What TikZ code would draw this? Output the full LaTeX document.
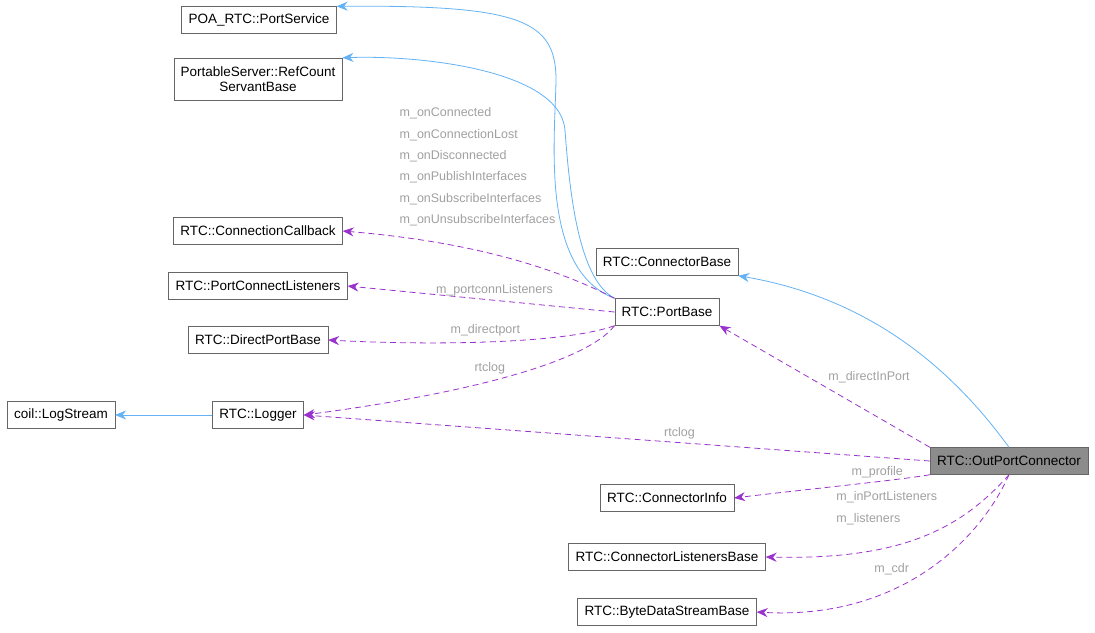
\documentclass[tikz,border=0pt]{standalone}
\usepackage{fontspec}
\setmainfont{Liberation Sans}
\usetikzlibrary{arrows.meta,positioning}

\definecolor{inh}{RGB}{99,178,245}
\definecolor{use}{RGB}{154,50,205}
\definecolor{lbl}{RGB}{160,160,160}

\begin{document}
\begin{tikzpicture}[x=1pt,y=-1pt,font=\fontsize{13.5}{15}\selectfont,
  cls/.style={draw=black!60,fill=white,inner xsep=7pt,minimum height=27pt,align=center},
  inherit/.style={->,>={Stealth[length=11pt,width=9pt]},draw=inh,thick},
  member/.style={->,>={Stealth[length=11pt,width=9pt]},draw=use,thick,dash pattern=on 6pt off 4pt},
  lab/.style={text=lbl,font=\fontsize{12.5}{21.3}\selectfont,align=left}]

  \useasboundingbox (0,0) rectangle (1095,632);

	      \node[cls] (ps) at (259,20) {POA\_RTC::PortService};
	      \node[cls,minimum height=42pt] (rc) at (258,79) {PortableServer::RefCount\\ServantBase};
	      \node[cls] (cc) at (258,231) {RTC::ConnectionCallback};
	      \node[cls] (pcl) at (258,286) {RTC::PortConnectListeners};
	      \node[cls] (dpb) at (258,340) {RTC::DirectPortBase};
	      \node[cls] (ls) at (61,415) {coil::LogStream};
	      \node[cls] (log) at (258,415) {RTC::Logger};
	      \node[cls] (cb) at (667,262) {RTC::ConnectorBase};
	      \node[cls] (pb) at (667,312) {RTC::PortBase};
	      \node[cls,fill=black!45] (opc) at (1009,461) {RTC::OutPortConnector};
	      \node[cls] (ci) at (667,498) {RTC::ConnectorInfo};
	      \node[cls] (clb) at (667,557) {RTC::ConnectorListenersBase};
	      \node[cls] (bds) at (667,612) {RTC::ByteDataStreamBase};

	      % inheritance
	      \draw[inherit] (pb.north west) .. controls (540,270) and (555,140) .. (556,80)
	        .. controls (556,20) and (520,5) .. (ps.north east);
	      \draw[inherit] (pb.north west) .. controls (580,280) and (570,200) .. (565,130)
	        .. controls (560,70) and (420,55) .. (rc.north east);
	      \draw[inherit] (log) -- (ls);
	      \draw[inherit] (opc.north) .. controls (960,380) and (880,300) .. (cb.south east);

	      % members
	      \draw[member] (pb.north west) .. controls (540,260) and (450,240) .. (cc.east)
	        node[lab,pos=0.5,anchor=south west,xshift=-95pt,yshift=24pt] {m\_onConnected\\m\_onConnectionLost\\m\_onDisconnected\\m\_onPublishInterfaces\\m\_onSubscribeInterfaces\\m\_onUnsubscribeInterfaces};
	      \draw[member] (pb.west) -- (pcl.east) node[lab,pos=0.45,above] {m\_portconnListeners};
	      \draw[member] (pb.south west) .. controls (560,345) and (420,345) .. (dpb.east)
	        node[lab,pos=0.5,above=2pt] {m\_directport};
	      \draw[member] (pb.south west) .. controls (580,370) and (420,400) .. (log.east)
	        node[lab,pos=0.5,above=4pt] {rtclog};
	      \draw[member] (opc.north west) -- (pb.south east)
	        node[lab,pos=0.5,above right] {m\_directInPort};
	      \draw[member] (opc.west) -- (log.east) node[lab,pos=0.4,above] {rtclog};
	      \draw[member] (opc.south west) .. controls (900,480) and (800,490) .. (ci.east)
	        node[lab,pos=0.35,above] {m\_profile};
	      \draw[member] (opc.south) .. controls (960,530) and (900,560) .. (clb.east)
	        node[lab,pos=0.4,above left] {m\_inPortListeners\\m\_listeners};
	      \draw[member] (opc.south) .. controls (980,540) and (900,620) .. (bds.east)
	        node[lab,pos=0.55,above left] {m\_cdr};
\end{tikzpicture}
\end{document}
